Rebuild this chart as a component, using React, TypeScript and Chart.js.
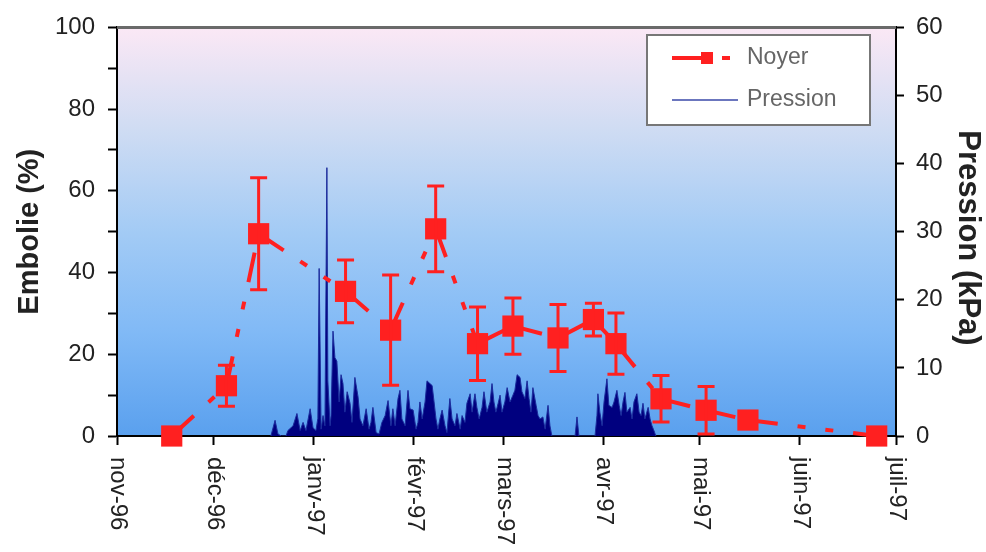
import React, { useEffect, useRef } from 'react';
import { Chart, registerables } from 'chart.js';

Chart.register(...registerables);

// X axis: days since 1 Nov 1996
const monthTickDays = [0, 30, 61, 92, 120, 151, 181, 212, 242];
const monthLabels = ['nov-96', 'déc-96', 'janv-97', 'févr-97', 'mars-97', 'avr-97', 'mai-97', 'juin-97', 'juil-97'];

// Noyer: embolism (%) with error bars
const noyerDays = [17, 34, 44, 71, 85, 99, 112, 123, 137, 148, 155, 169, 183, 196, 236];
const noyerEmbolie = [0, 12.3, 49.5, 35.4, 25.9, 50.7, 22.6, 26.9, 24.0, 28.5, 22.6, 9.1, 6.3, 3.9, 0];
const noyerErr = [0, 5, 13.7, 7.7, 13.5, 10.5, 9, 6.9, 8.2, 4, 7.5, 5.7, 5.8, 0, 0];

// Pression (kPa)
const pressionDays = [
  47.8, 49.1, 50.0, 51.0, 52.5, 53.1, 54.7, 55.9, 56.9, 57.8, 58.7, 60.0, 60.9, 61.8, 62.4, 62.8,
  63.4, 64.0, 64.6, 65.2, 65.5, 66.2, 66.5, 67.1, 67.7, 68.3, 69.0, 69.6, 70.2, 70.8, 71.5, 72.4,
  73.0, 73.9, 74.9, 75.5, 76.4, 77.4, 78.3, 78.9, 79.5, 80.5, 81.4, 82.3, 83.3, 84.2, 85.1, 85.7,
  86.4, 87.3, 87.9, 88.5, 89.5, 90.4, 91.0, 92.0, 92.9, 93.5, 94.1, 94.8, 95.7, 96.3, 97.2, 97.9,
  98.5, 99.1, 99.7, 100.3, 101.0, 101.9, 102.5, 103.4, 104.1, 105.0, 105.6, 106.6, 107.2, 108.1,
  108.7, 109.7, 110.3, 111.2, 111.8, 112.5, 113.4, 114.0, 114.9, 115.9, 116.5, 117.1, 117.7, 118.4,
  119.0, 119.6, 120.5, 121.2, 122.1, 123.0, 123.6, 124.3, 125.2, 125.8, 126.7, 127.4, 128.0, 128.6,
  129.2, 130.2, 130.8, 131.4, 132.3, 133.0, 133.9, 134.5, 135.1, 142.3, 142.9, 143.5, 148.5, 149.1,
  149.4, 150.0, 150.7, 151.3, 152.2, 152.8, 153.8, 154.4, 155.3, 156.0, 156.6, 157.2, 157.8, 158.4,
  159.4, 160.0, 160.6, 161.5, 162.2, 162.8, 163.4, 164.0, 165.0, 165.6, 166.2, 166.8, 167.4,
];
const pressionKPa = [
  0, 2.3, 0.3, 0, 0, 0.8, 1.5, 3.3, 0.8, 2, 0.8, 4, 1.2, 0.8, 2.6, 24.6,
  1, 3, 1.5, 39.4, 8.1, 1.5, 3, 15.4, 11.5, 11, 5, 9, 7.7, 3.5, 6.5, 4.8,
  2, 8.6, 5.7, 2.5, 1.5, 4, 1, 2, 4.2, 0.5, 0.3, 2, 3, 5.2, 1.5, 4,
  1.5, 5.5, 6.7, 2.5, 1.5, 6.7, 4, 3.8, 1, 2, 5, 2.5, 5, 8.1, 7.7, 7.4,
  5, 2.5, 1, 2.5, 3.8, 1.5, 0.5, 5.5, 2.5, 1.5, 3.3, 1, 3, 2,
  4.8, 6.2, 3.5, 6.2, 4.2, 2.5, 4.2, 6.5, 3.5, 5, 7.7, 5, 3.5, 4.8,
  6, 3.5, 5, 7.1, 5, 6, 6.7, 9, 8.6, 6.5, 5.5, 8.1, 5.5, 3.5,
  7.1, 4.5, 3, 2.5, 2.8, 1, 4.5, 1.5, 0, 0, 2.8, 0, 0, 3,
  6.2, 3.5, 1.5, 5, 8.4, 4.5, 4.2, 5, 6.7, 4.5, 3, 5, 6.4, 3.5,
  4.2, 2.5, 5, 6.2, 3.5, 3, 4.8, 2.5, 4.2, 2.5, 1.5, 0.8, 0,
];

const FONT = '"Liberation Sans", Arial, Helvetica, sans-serif';
const RED = '#ff2020';

const decorPlugin = {
  id: 'decor',
  beforeDraw(chart: any) {
    const { ctx, chartArea: a } = chart;
    const g = ctx.createLinearGradient(0, a.top, 0, a.bottom);
    g.addColorStop(0, '#fbe8f5');
    g.addColorStop(0.25, '#cfdcf3');
    g.addColorStop(0.5, '#a3cbf5');
    g.addColorStop(0.75, '#80b9f6');
    g.addColorStop(1, '#5aa0ee');
    ctx.save();
    ctx.fillStyle = g;
    ctx.fillRect(a.left, a.top, a.right - a.left, a.bottom - a.top);
    ctx.restore();
  },
  afterDatasetsDraw(chart: any) {
    const { ctx } = chart;
    const xs = chart.scales.x;
    const ys = chart.scales.y;
    ctx.save();
    ctx.strokeStyle = RED;
    ctx.lineWidth = 3;
    noyerDays.forEach((d, i) => {
      const e = noyerErr[i];
      if (!e) return;
      const x = xs.getPixelForValue(d);
      const yT = ys.getPixelForValue(noyerEmbolie[i] + e);
      const yB = ys.getPixelForValue(Math.max(0, noyerEmbolie[i] - e));
      ctx.beginPath();
      ctx.moveTo(x, yT);
      ctx.lineTo(x, yB);
      ctx.moveTo(x - 8.5, yT);
      ctx.lineTo(x + 8.5, yT);
      ctx.moveTo(x - 8.5, yB);
      ctx.lineTo(x + 8.5, yB);
      ctx.stroke();
    });
    ctx.restore();
  },
  afterDraw(chart: any) {
    const { ctx, chartArea: a } = chart;
    const xs = chart.scales.x;
    ctx.save();
    // top frame line
    ctx.strokeStyle = '#6a6a6a';
    ctx.lineWidth = 3;
    ctx.beginPath();
    ctx.moveTo(a.left, a.top);
    ctx.lineTo(a.right, a.top);
    ctx.stroke();

    // x labels rotated clockwise
    ctx.fillStyle = '#222';
    ctx.font = `24px ${FONT}`;
    ctx.textAlign = 'left';
    ctx.textBaseline = 'middle';
    monthTickDays.forEach((d, i) => {
      const x = xs.getPixelForValue(d);
      ctx.save();
      ctx.translate(x + 1, a.bottom + 21);
      ctx.rotate(Math.PI / 2);
      ctx.fillText(monthLabels[i], 0, 0);
      ctx.restore();
    });

    // axis titles
    ctx.font = `bold 29px ${FONT}`;
    ctx.textAlign = 'center';
    ctx.save();
    ctx.translate(30, (a.top + a.bottom) / 2);
    ctx.rotate(-Math.PI / 2);
    ctx.fillText('Embolie (%)', 0, 0);
    ctx.restore();
    ctx.font = `bold 31px ${FONT}`;
    ctx.save();
    ctx.translate(968, 238);
    ctx.rotate(Math.PI / 2);
    ctx.fillText('Pression (kPa)', 0, 0);
    ctx.restore();

    // legend
    ctx.fillStyle = '#ffffff';
    ctx.fillRect(647, 35, 223, 90);
    ctx.strokeStyle = '#777';
    ctx.lineWidth = 2;
    ctx.strokeRect(647, 35, 223, 90);
    ctx.strokeStyle = RED;
    ctx.lineWidth = 4;
    ctx.beginPath();
    ctx.moveTo(672, 58);
    ctx.lineTo(703, 58);
    ctx.moveTo(722, 58);
    ctx.lineTo(730, 58);
    ctx.stroke();
    ctx.fillStyle = RED;
    ctx.fillRect(701, 52, 12, 12);
    ctx.strokeStyle = '#3a48a8';
    ctx.lineWidth = 1.5;
    ctx.beginPath();
    ctx.moveTo(672, 100);
    ctx.lineTo(738, 100);
    ctx.stroke();
    ctx.fillStyle = '#666';
    ctx.font = `23px ${FONT}`;
    ctx.textAlign = 'left';
    ctx.textBaseline = 'middle';
    ctx.fillText('Noyer', 747, 58);
    ctx.fillText('Pression', 747, 100);
    ctx.restore();
  },
};

export default function App() {
  const ref = useRef<HTMLCanvasElement | null>(null);

  useEffect(() => {
    if (!ref.current) return;
    const chart = new Chart(ref.current, {
      type: 'line',
      data: {
        datasets: [
          {
            label: 'Noyer',
            data: noyerDays.map((d, i) => ({ x: d, y: noyerEmbolie[i] })),
            yAxisID: 'y',
            borderColor: RED,
            borderWidth: 4,
            borderDash: [30, 20, 8, 20, 8, 20],
            borderCapStyle: 'butt',
            segment: {
              borderDashOffset: (c: any) => (c.p0DataIndex % 2) * 0.01,
            },
            pointStyle: 'rect',
            pointRadius: 15,
            pointHoverRadius: 15,
            pointBackgroundColor: RED,
            pointBorderColor: RED,
            pointBorderWidth: 0,
            fill: false,
            tension: 0,
            clip: false,
          } as any,
          {
            label: 'Pression',
            data: pressionDays.map((d, i) => ({ x: d, y: pressionKPa[i] })),
            yAxisID: 'y2',
            borderColor: '#1c2c9c',
            borderWidth: 1,
            backgroundColor: '#00007f',
            fill: 'origin',
            pointRadius: 0,
            tension: 0,
          },
        ],
      },
      options: {
        responsive: false,
        animation: false,
        devicePixelRatio: 1,
        layout: { padding: { top: 23, left: 0, right: 0, bottom: 0 } },
        plugins: {
          legend: { display: false },
          tooltip: { enabled: false },
        },
        events: [],
        scales: {
          x: {
            type: 'linear',
            min: 0,
            max: 242,
            afterBuildTicks: (s: any) => {
              s.ticks = monthTickDays.map((v) => ({ value: v }));
            },
            afterFit: (s: any) => {
              s.height = 116;
            },
            ticks: { callback: () => '', autoSkip: false, maxRotation: 0 },
            grid: { display: true, drawOnChartArea: false, drawTicks: true, tickLength: 9, tickColor: '#000', tickWidth: 2 },
            border: { display: true, color: '#000', width: 2 },
          },
          y: {
            type: 'linear',
            position: 'left',
            min: 0,
            max: 100,
            afterFit: (s: any) => {
              s.width = 117;
            },
            ticks: {
              stepSize: 10,
              autoSkip: false,
              padding: 13,
              color: '#222',
              font: { size: 24, family: FONT },
              callback: (v: any) => (v % 20 === 0 ? String(v) : ''),
            },
            grid: { display: true, drawOnChartArea: false, drawTicks: true, tickLength: 9, tickColor: '#000', tickWidth: 2 },
            border: { display: true, color: '#000', width: 2 },
          },
          y2: {
            type: 'linear',
            position: 'right',
            min: 0,
            max: 60,
            afterFit: (s: any) => {
              s.width = 90;
            },
            ticks: {
              stepSize: 10,
              autoSkip: false,
              padding: 12,
              color: '#222',
              font: { size: 24, family: FONT },
            },
            grid: { display: true, drawOnChartArea: false, drawTicks: true, tickLength: 8, tickColor: '#000', tickWidth: 2 },
            border: { display: true, color: '#000', width: 2 },
          },
        },
      } as any,
      plugins: [decorPlugin],
    });
    return () => chart.destroy();
  }, []);

  return (
    <div style={{ position: 'absolute', left: 0, top: 0, width: 986, height: 552, background: '#fff' }}>
      <canvas ref={ref} width={986} height={552} style={{ display: 'block', width: 986, height: 552 }} />
    </div>
  );
}
